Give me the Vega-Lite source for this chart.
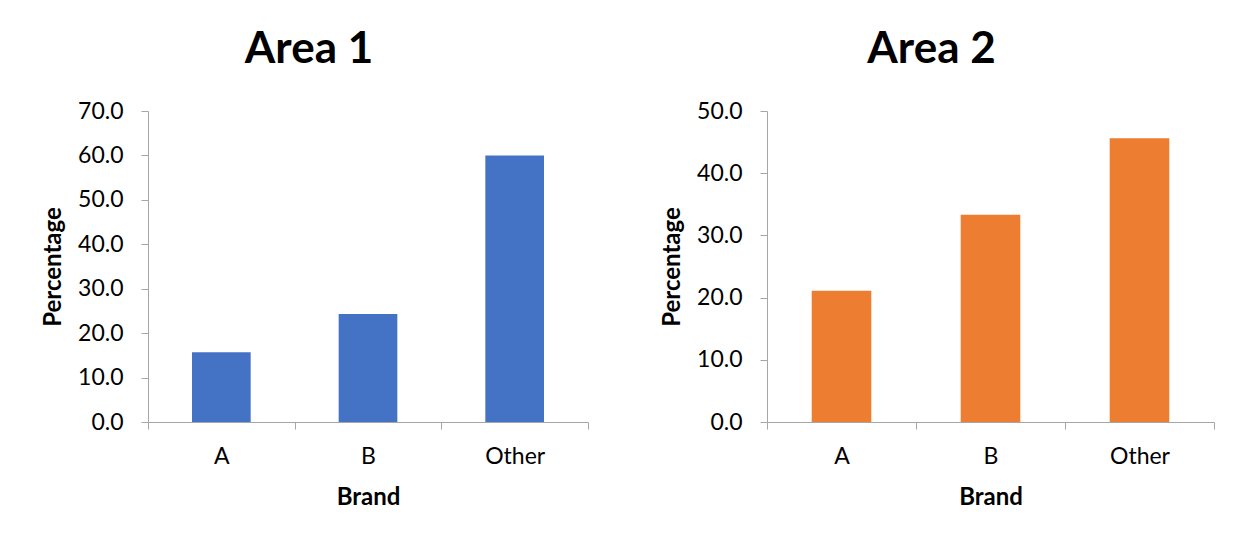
{
  "$schema": "https://vega.github.io/schema/vega-lite/v6.json",
  "background": "white",
  "autosize": {"type": "pad"},
  "padding": {"left": 41, "top": 28, "right": 0, "bottom": 0},
  "spacing": 71,
  "data": {
    "values": [
      {"area": "Area 1", "brand": "A", "pct": 15.7},
      {"area": "Area 1", "brand": "B", "pct": 24.3},
      {"area": "Area 1", "brand": "Other", "pct": 60.0},
      {"area": "Area 2", "brand": "A", "pct": 21.1},
      {"area": "Area 2", "brand": "B", "pct": 33.3},
      {"area": "Area 2", "brand": "Other", "pct": 45.6}
    ]
  },
  "config": {
    "font": "Lato",
    "view": {"stroke": null},
    "axis": {
      "domainColor": "#a6a6a6",
      "tickColor": "#a6a6a6",
      "labelColor": "#000000",
      "titleColor": "#000000",
      "labelFont": "Lato",
      "titleFont": "Lato",
      "labelFontSize": 23,
      "titleFontSize": 24,
      "titleFontWeight": "bold",
      "grid": false,
      "tickSize": 7
    },
    "title": {"font": "Lato", "fontSize": 44, "fontWeight": "bold", "color": "#000000", "frame": "group", "anchor": "middle", "dx": -59, "offset": 28}
  },
  "hconcat": [
    {
      "title": "Area 1",
      "width": 440,
      "height": 311,
      "transform": [{"filter": "datum.area === 'Area 1'"}],
      "mark": {"type": "bar", "width": {"band": 0.4}, "color": "#4472C4"},
      "encoding": {
        "x": {
          "field": "brand", "type": "nominal", "sort": ["A", "B", "Other"], "title": "Brand",
          "scale": {"paddingInner": 0, "paddingOuter": 0},
          "axis": {"labelAngle": 0, "tickBand": "extent", "labelPadding": 16, "titlePadding": 17}
        },
        "y": {
          "field": "pct", "type": "quantitative", "title": "Percentage",
          "scale": {"domain": [0, 70], "nice": false},
          "axis": {"values": [0, 10, 20, 30, 40, 50, 60, 70], "format": ".1f", "labelPadding": 18, "titlePadding": 12}
        }
      }
    },
    {
      "title": "Area 2",
      "width": 447,
      "height": 311,
      "transform": [{"filter": "datum.area === 'Area 2'"}],
      "mark": {"type": "bar", "width": {"band": 0.4}, "color": "#ED7D31"},
      "encoding": {
        "x": {
          "field": "brand", "type": "nominal", "sort": ["A", "B", "Other"], "title": "Brand",
          "scale": {"paddingInner": 0, "paddingOuter": 0},
          "axis": {"labelAngle": 0, "tickBand": "extent", "labelPadding": 16, "titlePadding": 17}
        },
        "y": {
          "field": "pct", "type": "quantitative", "title": "Percentage",
          "scale": {"domain": [0, 50], "nice": false},
          "axis": {"values": [0, 10, 20, 30, 40, 50], "format": ".1f", "labelPadding": 18, "titlePadding": 12}
        }
      }
    }
  ]
}
